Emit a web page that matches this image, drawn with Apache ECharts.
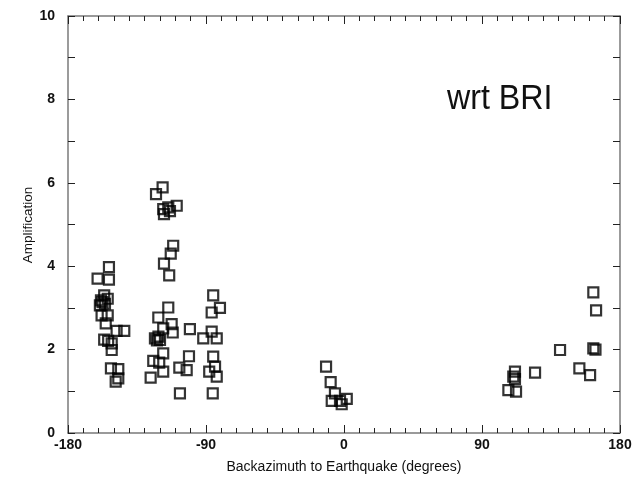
<!DOCTYPE html>
<html>
<head>
<meta charset="utf-8">
<script src="https://cdn.jsdelivr.net/npm/echarts@6/dist/echarts.min.js"></script>
<style>
  html, body { margin: 0; padding: 0; background: #fff; }
  #chart { width: 642px; height: 479px; }
</style>
</head>
<body>
<div id="chart"></div>
<script>
// Station amplification relative to BRI, by earthquake backazimuth
const backazimuth = [
  // western cluster near -155
  -153.3, -160.7, -153.3, -156.4, -158.5, -154.1, -155.9, -159.2, -157.5, -158.1,
  -154.1, -155.4, -148.3, -143.3, -156.4, -153.8, -151.5, -151.5, -152.0, -147.2,
  -147.2, -148.9,
  // cluster near -115
  -118.3, -122.6, -109.1, -114.6, -117.9, -117.4, -113.5, -111.4, -113.0, -117.4,
  -114.0, -114.6, -121.1, -112.4, -117.9, -111.7, -123.3, -120.0, -122.0, -121.0,
  -100.5, -117.9, -124.4, -120.5, -117.9, -126.1, -101.1, -107.4, -102.6, -107.0,
  // cluster near -85
  -85.3, -80.9, -86.3, -86.3, -91.8, -83.0, -85.3, -84.1, -87.9, -83.0, -85.6,
  // near 0
  -11.7, -8.7, -5.9, -8.0, -1.5, 1.8, -2.6,
  // eastern events
  162.6, 164.4, 140.9, 162.6, 164.0, 153.5, 160.5, 124.6, 111.5, 110.4,
  111.5, 107.2, 112.2
];
const amplification = [
  3.98, 3.70, 3.68, 3.30, 3.18, 3.22, 3.10, 3.06, 3.14, 2.82,
  2.82, 2.63, 2.45, 2.45, 2.24, 2.21, 2.15, 1.99, 1.55, 1.53,
  1.31, 1.23,
  5.89, 5.73, 5.45, 5.41, 5.37, 5.25, 5.32, 4.49, 4.30, 4.06,
  3.78, 3.01, 2.77, 2.61, 2.51, 2.41, 2.27, 2.23, 2.22, 2.31,
  2.49, 1.91, 1.73, 1.69, 1.47, 1.33, 1.84, 1.57, 1.51, 0.95,
  3.30, 3.00, 2.89, 2.43, 2.27, 2.27, 1.83, 1.59, 1.47, 1.35, 0.95,
  1.59, 1.22, 0.95, 0.77, 0.69, 0.82, 0.77,
  3.37, 2.94, 1.99, 2.03, 2.00, 1.55, 1.39, 1.45, 1.47, 1.35,
  1.29, 1.03, 0.99
];
const xTicks = [-180, -90, 0, 90, 180];
const yTicks = [0, 2, 4, 6, 8, 10];
const stationLabel = 'wrt BRI';
const yTitle = 'Amplification';

const points = backazimuth.map((b, i) => [b, amplification[i]]);

const axisColor = '#7a7a7a';
const fontFamily = 'Liberation Sans, Arial, sans-serif';
const labelFont = { color: '#111', fontFamily: fontFamily, fontSize: 14, fontWeight: 'bold' };

function xAx(pos, show) {
  return {
    type: 'value', position: pos, min: xTicks[0], max: xTicks[xTicks.length - 1], interval: 90,
    axisLine: { show: true, onZero: false, lineStyle: { color: axisColor, width: 1.5 } },
    axisTick: { show: true, inside: true, length: 8, lineStyle: { color: '#222', width: 1 } },
    minorTick: { show: true, splitNumber: 9, length: 5, lineStyle: { color: '#222', width: 1 } },
    axisLabel: Object.assign({ show: show, margin: 5 }, labelFont),
    splitLine: { show: false },
    name: show ? 'Backazimuth to Earthquake (degrees)' : '',
    nameLocation: 'middle', nameGap: 27,
    nameTextStyle: { color: '#111', fontFamily: fontFamily, fontSize: 14 }
  };
}
function yAx(pos, show) {
  return {
    type: 'value', position: pos, min: yTicks[0], max: yTicks[yTicks.length - 1], interval: 1,
    axisLine: { show: true, onZero: false, lineStyle: { color: axisColor, width: 1.5 } },
    axisTick: { show: true, inside: true, length: 7, lineStyle: { color: '#222', width: 1 } },
    axisLabel: Object.assign({
      show: show, margin: 13,
      formatter: v => (yTicks.indexOf(v) >= 0 ? String(v) : '')
    }, labelFont),
    splitLine: { show: false }
  };
}

const chart = echarts.init(document.getElementById('chart'), null, { renderer: 'canvas' });
chart.setOption({
  animation: false,
  backgroundColor: '#fff',
  grid: { left: 68, right: 22, top: 16, bottom: 44 },
  xAxis: [xAx('bottom', true), xAx('top', false)],
  yAxis: [yAx('left', true), yAx('right', false)],
  graphic: [{
    type: 'text', left: 447, top: 82, scaleX: 0.92,
    style: {
      text: stationLabel, fill: '#111',
      font: '300 35px "Liberation Sans", Arial, sans-serif'
    }
  }, {
    // rotated y-axis title
    type: 'text', x: 28, y: 225, rotation: Math.PI / 2,
    style: {
      text: yTitle, fill: '#111', align: 'center', verticalAlign: 'middle',
      font: '13.5px "Liberation Sans", Arial, sans-serif'
    }
  }],
  series: [{
    type: 'scatter', xAxisIndex: 0, yAxisIndex: 0,
    data: points, symbol: 'rect', symbolSize: 10,
    itemStyle: { color: 'rgba(0,0,0,0)', borderColor: '#000', borderWidth: 2.2 }
  }]
});
</script>
</body>
</html>
